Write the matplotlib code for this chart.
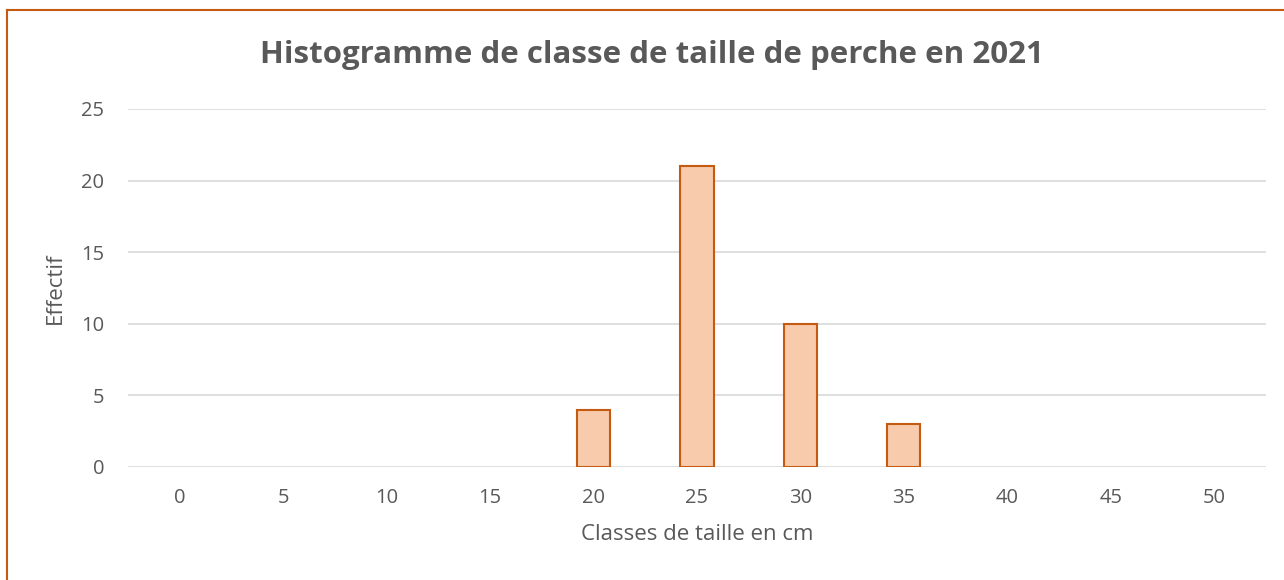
import matplotlib
matplotlib.use("Agg")
import matplotlib.pyplot as plt
from matplotlib.lines import Line2D

categories = ["0", "5", "10", "15", "20", "25", "30", "35", "40", "45", "50"]
effectif = [0, 0, 0, 0, 4, 21, 10, 3, 0, 0, 0]
y_ticks = [0, 5, 10, 15, 20, 25]

plt.rcParams['font.family'] = ['Open Sans', 'DejaVu Sans']
W, H = 1284, 580
fig = plt.figure(figsize=(W / 100, H / 100), dpi=100)
ax = fig.add_axes([128 / W, 1 - 467 / H, (1266 - 128) / W, (467 - 109) / H])

x = list(range(len(categories)))
bars = ax.bar(x, effectif, width=0.32, color='#F8CBAD', edgecolor='#C55A11', linewidth=1.5, zorder=3)
for b, v in zip(bars, effectif):
    if v == 0:
        b.set_visible(False)

ax.set_xlim(-0.5, len(categories) - 0.5)
ax.set_ylim(0, 25)
ax.set_yticks(y_ticks)
ax.set_xticks(x)
ax.set_xticklabels(categories)
ax.yaxis.grid(True, color='#D9D9D9', linewidth=1.2, zorder=0)
ax.set_axisbelow(True)
for s in ax.spines.values():
    s.set_visible(False)
ax.tick_params(axis='both', length=0, labelsize=14.5, colors='#595959')
ax.tick_params(axis='x', pad=15)
ax.tick_params(axis='y', pad=17)

ax.set_xlabel('Classes de taille en cm', fontsize=16, color='#595959', labelpad=12)
ax.set_ylabel('Effectif', fontsize=16, color='#595959', labelpad=11)

fig.text(652 / W, 1 - 55 / H, 'Histogramme de classe de taille de perche en 2021',
         ha='center', va='center', fontsize=22.5, fontweight='bold', color='#595959')

# chart border (orange)
fig.add_artist(Line2D([7 / W, 7 / W], [0, 1 - 10 / H], transform=fig.transFigure,
                      color='#C55A11', linewidth=1.5))
fig.add_artist(Line2D([7 / W, 1], [1 - 10 / H, 1 - 10 / H], transform=fig.transFigure,
                      color='#C55A11', linewidth=1.5))

fig.savefig('out.png', dpi=100)
